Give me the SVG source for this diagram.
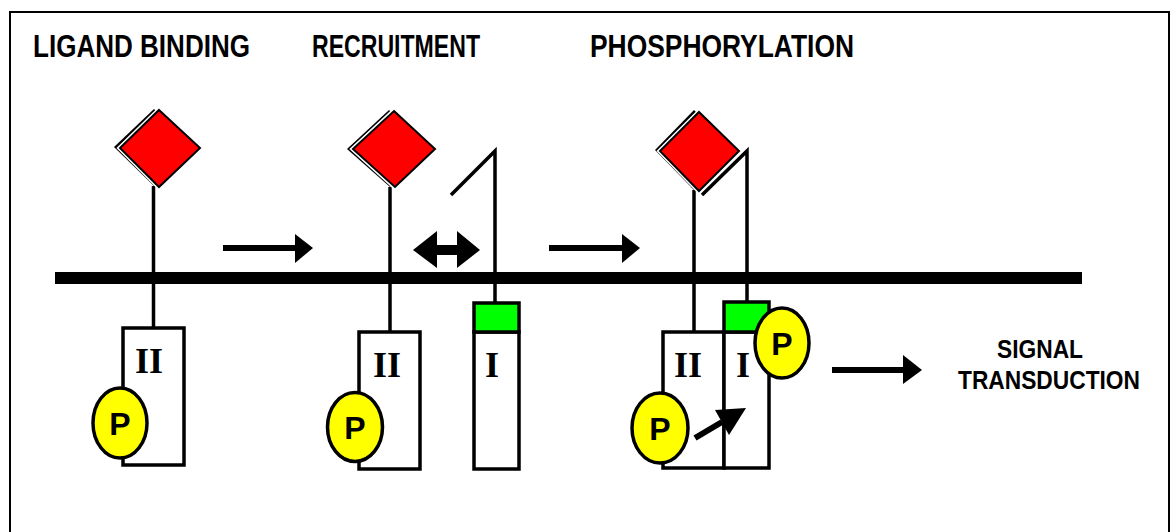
<svg xmlns="http://www.w3.org/2000/svg" width="1171" height="532" viewBox="0 0 1171 532">
  <style>
    .title { font-family: "Liberation Sans Narrow", "Liberation Sans", Arial, sans-serif; font-weight: bold; font-size: 31px; fill: #000; }
    .side { font-family: "Liberation Sans Narrow", "Liberation Sans", Arial, sans-serif; font-weight: bold; font-size: 25px; fill: #000; text-anchor: middle; }
    .roman { font-family: "Liberation Serif", "Times New Roman", serif; font-weight: bold; font-size: 36px; fill: #000; text-anchor: middle; }
    .ptext { font-family: "Liberation Sans", Arial, sans-serif; font-weight: bold; font-size: 32px; fill: #000; text-anchor: middle; }
    .stem { stroke: #000; stroke-width: 3.5; fill: none; }
    .box { fill: #fff; stroke: #000; stroke-width: 3.5; }
    .kinase { fill: #00ff00; stroke: #000; stroke-width: 3.5; }
    .phos { fill: #ffff00; stroke: #000; stroke-width: 3.5; }
    .shadow { fill: #000; }
    .ligand { fill: #ff0000; stroke: #000; stroke-width: 2; }
    .halo { fill: none; stroke: #fff; stroke-width: 5; }
    .shaft { stroke: #000; stroke-width: 6; fill: none; }
    .head { fill: #000; }
  </style>

  <!-- frame -->
  <rect x="10" y="12" width="1159" height="530" fill="#fff" stroke="#000" stroke-width="2"/>

  <!-- stage titles -->
  <g id="titles">
    <text class="title" x="33" y="57" textLength="217" lengthAdjust="spacingAndGlyphs">LIGAND BINDING</text>
    <text class="title" x="312" y="57" textLength="168" lengthAdjust="spacingAndGlyphs">RECRUITMENT</text>
    <text class="title" x="590" y="57" textLength="264" lengthAdjust="spacingAndGlyphs">PHOSPHORYLATION</text>
  </g>

  <!-- stems crossing the membrane -->
  <g id="stems">
    <line class="stem" x1="153.5" y1="186" x2="153.5" y2="328"/>
    <line class="stem" x1="390" y1="187" x2="390" y2="332"/>
    <polyline class="stem" points="451,195 495,151 495,303"/>
    <line class="stem" x1="694" y1="190" x2="694" y2="332"/>
    <polyline class="stem" points="702,195 747,151 747,302"/>
  </g>

  <!-- cell membrane -->
  <rect id="membrane" x="55" y="272" width="1027" height="12" fill="#000"/>

  <!-- ligand on receptor II, stage 1 -->
  <g id="ligand1">
    <polygon class="shadow" points="154,109 194,147 154,186 114,147"/>
    <polygon class="halo" points="159,110 200,148 159,187 120,148"/>
    <polygon class="ligand" points="159,110 200,148 159,187 120,148"/>
  </g>

  <!-- ligand on receptor II, stage 2 -->
  <g id="ligand2">
    <polygon class="shadow" points="389,110 430,149 390,187 347,149"/>
    <polygon class="halo" points="394,111 435,149 395,187 353,149"/>
    <polygon class="ligand" points="394,111 435,149 395,187 353,149"/>
  </g>

  <!-- ligand on receptor II, stage 3 -->
  <g id="ligand3">
    <polygon class="shadow" points="694,110 734,150 694,190 655,150"/>
    <polygon class="halo" points="699,112 739,151 699,191 660,151"/>
    <polygon class="ligand" points="699,112 739,151 699,191 660,151"/>
  </g>

  <!-- stage 1: receptor II alone -->
  <g id="receptor2-a">
    <rect class="box" x="123" y="328" width="61" height="137"/>
    <text class="roman" x="149" y="373">II</text>
    <ellipse class="phos" cx="120" cy="423" rx="27" ry="35"/>
    <text class="ptext" x="120" y="435">P</text>
  </g>

  <!-- stage 2: receptor II -->
  <g id="receptor2-b">
    <rect class="box" x="359" y="332" width="61" height="137"/>
    <text class="roman" x="387" y="377">II</text>
    <ellipse class="phos" cx="355" cy="427" rx="27.5" ry="34.5"/>
    <text class="ptext" x="355" y="439">P</text>
  </g>

  <!-- stage 2: receptor I -->
  <g id="receptor1-b">
    <rect class="box" x="474" y="332" width="45" height="137"/>
    <rect class="kinase" x="474" y="303" width="45" height="29"/>
    <text class="roman" x="492" y="377">I</text>
  </g>

  <!-- stage 3: receptor complex -->
  <g id="complex">
    <rect class="box" x="663" y="332" width="61" height="136"/>
    <text class="roman" x="688" y="377">II</text>
    <rect class="box" x="724" y="332" width="45" height="136"/>
    <rect class="kinase" x="724" y="302" width="45" height="30"/>
    <text class="roman" x="743" y="377">I</text>
    <ellipse class="phos" cx="660" cy="428" rx="28" ry="35"/>
    <text class="ptext" x="660" y="440">P</text>
    <ellipse class="phos" cx="782" cy="343" rx="27" ry="35"/>
    <text class="ptext" x="782" y="355">P</text>
  </g>

  <!-- arrows -->
  <g id="connectors">
    <line class="shaft" x1="223" y1="248" x2="297" y2="248"/>
    <polygon class="head" points="295,234 313,248 295,263"/>

    <line class="shaft" x1="549" y1="248" x2="624" y2="248"/>
    <polygon class="head" points="622,234 640,248 622,263"/>

    <rect class="head" x="435" y="245" width="24" height="10"/>
    <polygon class="head" points="437,231 413,250 437,268"/>
    <polygon class="head" points="457,231 480,250 457,268"/>

    <line class="shaft" x1="695" y1="438" x2="722" y2="422"/>
    <polygon class="head" points="746,408 715,410 729,435"/>

    <line class="shaft" x1="832" y1="370" x2="905" y2="370"/>
    <polygon class="head" points="903,355 922,370 903,384"/>
  </g>

  <!-- outcome label -->
  <g id="outcome">
    <text class="side" x="1040" y="358" textLength="86" lengthAdjust="spacingAndGlyphs">SIGNAL</text>
    <text class="side" x="1049" y="389" textLength="182" lengthAdjust="spacingAndGlyphs">TRANSDUCTION</text>
  </g>
</svg>
